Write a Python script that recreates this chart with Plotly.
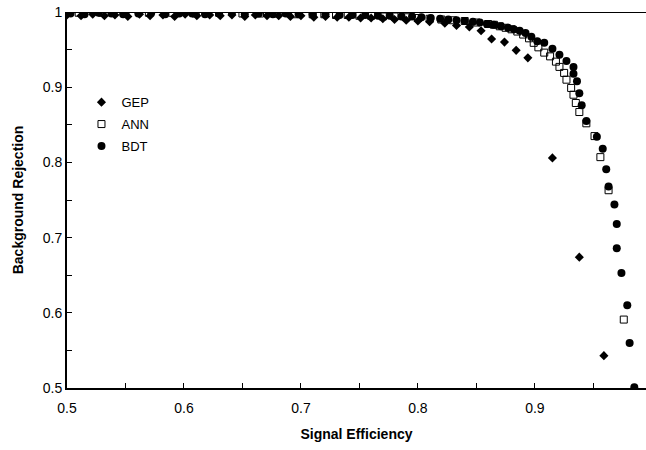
import plotly.graph_objects as go

# GEP (diamonds)
gep_x = [0.500, 0.512, 0.522, 0.532, 0.541, 0.552, 0.562, 0.571, 0.582, 0.592,
         0.601, 0.611, 0.622, 0.631, 0.641, 0.652, 0.661, 0.671, 0.681, 0.691,
         0.700, 0.711, 0.721, 0.731, 0.741, 0.751, 0.760, 0.770, 0.780, 0.790,
         0.800, 0.810, 0.823, 0.833, 0.844, 0.854, 0.863, 0.874, 0.884, 0.894,
         0.915, 0.938, 0.959]
gep_y = [0.996, 0.995, 0.997, 0.995, 0.996, 0.994, 0.997, 0.995, 0.996, 0.994,
         0.997, 0.995, 0.996, 0.995, 0.996, 0.994, 0.996, 0.995, 0.995, 0.994,
         0.995, 0.993, 0.994, 0.993, 0.993, 0.992, 0.992, 0.991, 0.990, 0.989,
         0.988, 0.987, 0.985, 0.982, 0.980, 0.975, 0.964, 0.960, 0.949, 0.939,
         0.806, 0.674, 0.543]

# ANN (open squares)
ann_x = [0.51, 0.53, 0.55, 0.57, 0.59, 0.61, 0.63, 0.65, 0.665, 0.68,
         0.695, 0.71, 0.72, 0.73, 0.74, 0.75, 0.76, 0.77, 0.78, 0.79,
         0.80, 0.81, 0.82, 0.83, 0.84, 0.85, 0.86, 0.865, 0.87, 0.875,
         0.88, 0.885, 0.89, 0.895, 0.899,
         0.903, 0.908, 0.913, 0.918, 0.921, 0.925, 0.927, 0.931, 0.933, 0.935,
         0.938, 0.944, 0.951, 0.956, 0.963, 0.976]
ann_y = [0.999, 0.999, 0.998, 0.999, 0.999, 0.998, 0.999, 0.998, 0.998, 0.998,
         0.997, 0.997, 0.997, 0.996, 0.996, 0.995, 0.995, 0.994, 0.994, 0.993,
         0.992, 0.991, 0.990, 0.989, 0.988, 0.986, 0.984, 0.983, 0.981, 0.979,
         0.977, 0.974, 0.970, 0.965, 0.959,
         0.953, 0.946, 0.941, 0.934, 0.927, 0.919, 0.910, 0.899, 0.890, 0.879,
         0.867, 0.852, 0.835, 0.807, 0.763, 0.591]

# BDT (filled circles)
bdt_x = [0.503, 0.515, 0.527, 0.538, 0.548, 0.561, 0.572, 0.584, 0.596, 0.607,
         0.618, 0.630, 0.641, 0.652, 0.664, 0.676, 0.687, 0.698, 0.710, 0.721,
         0.733, 0.744, 0.755, 0.766, 0.776, 0.786, 0.795, 0.803, 0.811, 0.819,
         0.826, 0.833, 0.840, 0.847, 0.853, 0.859, 0.865, 0.871, 0.877, 0.882,
         0.887, 0.892, 0.897,
         0.902, 0.908, 0.915, 0.921, 0.927, 0.933, 0.933, 0.936, 0.938, 0.940,
         0.944, 0.953, 0.958, 0.961, 0.963, 0.968, 0.970, 0.970, 0.974, 0.979,
         0.981, 0.985]
bdt_y = [0.998, 0.997, 0.999, 0.998, 0.997, 0.998, 0.999, 0.997, 0.998, 0.998,
         0.997, 0.998, 0.999, 0.997, 0.998, 0.997, 0.998, 0.997, 0.997, 0.997,
         0.996, 0.996, 0.996, 0.995, 0.995, 0.994, 0.994, 0.993, 0.992, 0.991,
         0.990, 0.989, 0.988, 0.987, 0.986, 0.984, 0.983, 0.981, 0.979, 0.977,
         0.975, 0.972, 0.967,
         0.961, 0.959, 0.951, 0.943, 0.935, 0.927, 0.918, 0.908, 0.892, 0.876,
         0.855, 0.834, 0.818, 0.791, 0.768, 0.744, 0.718, 0.686, 0.653, 0.610,
         0.560, 0.501]

x_ticks = [0.5, 0.6, 0.7, 0.8, 0.9]
y_ticks = [0.5, 0.6, 0.7, 0.8, 0.9, 1.0]
y_ticktext = ["0.5", "0.6", "0.7", "0.8", "0.9", "1"]

fig = go.Figure()
fig.add_trace(go.Scatter(x=gep_x, y=gep_y, mode="markers", name="GEP",
                         legendgroup="a", legendrank=1,
                         marker=dict(symbol="diamond", size=7, color="black")))
fig.add_trace(go.Scatter(x=bdt_x, y=bdt_y, mode="markers", name="BDT",
                         legendgroup="c", legendrank=3,
                         marker=dict(symbol="circle", size=8, color="black")))
fig.add_trace(go.Scatter(x=ann_x, y=ann_y, mode="markers", name="ANN",
                         legendgroup="b", legendrank=2,
                         marker=dict(symbol="square-open", size=7, color="black",
                                     line=dict(width=1, color="black"))))

axis_font = dict(family="Liberation Sans, Arial, sans-serif", size=14, color="black")

fig.update_layout(
    width=646, height=450,
    margin=dict(l=67, r=0, t=12, b=62),
    paper_bgcolor="white", plot_bgcolor="white",
    font=dict(family="Liberation Sans, Arial, sans-serif", size=13, color="black"),
    showlegend=True,
    legend=dict(x=0.025, y=0.80, xanchor="left", yanchor="top",
                bgcolor="rgba(0,0,0,0)", font=dict(size=13),
                tracegroupgap=2, itemwidth=30),
    xaxis=dict(range=[0.5, 0.995], tickvals=x_ticks, ticks="inside", ticklen=5,
               tickwidth=1, tickcolor="black", showline=True, linecolor="black",
               linewidth=2, showgrid=False, zeroline=False, tickfont=axis_font,
               ticklabelstandoff=6, ticklabeloverflow="allow", automargin="bottom",
               minor=dict(dtick=0.05, tick0=0.5, ticks="inside", ticklen=5,
                          tickcolor="black", tickwidth=1, showgrid=False),
               title=dict(text="<b>Signal Efficiency</b>", font=dict(size=14),
                          standoff=14)),
    yaxis=dict(range=[0.5, 1.0], tickvals=y_ticks, ticktext=y_ticktext,
               ticks="inside", ticklen=5, tickwidth=1, tickcolor="black",
               showline=True, linecolor="black", linewidth=2, showgrid=False,
               zeroline=False, tickfont=axis_font, ticklabeloverflow="allow",
               automargin="left",
               minor=dict(dtick=0.05, tick0=0.5, ticks="inside", ticklen=5,
                          tickcolor="black", tickwidth=1, showgrid=False),
               title=dict(text="<b>Background Rejection</b>", font=dict(size=14),
                          standoff=16)),
)
fig.add_shape(type="line", xref="paper", yref="y", x0=0, x1=1, y0=1.0, y1=1.0,
              line=dict(color="black", width=2), layer="below")

fig.write_html("out.html", config={"displayModeBar": False},
               post_script="document.body.style.margin='0';document.body.style.overflow='hidden';")
